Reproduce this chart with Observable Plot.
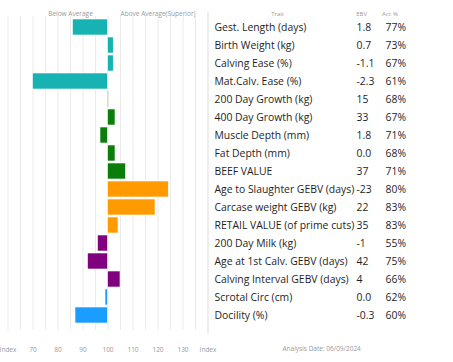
<!DOCTYPE html>
<html>
<head>
<meta charset="utf-8">
<script src="https://cdn.jsdelivr.net/npm/d3@7"></script>
<script src="https://cdn.jsdelivr.net/npm/@observablehq/plot@0.6"></script>
<style>
  html, body { margin: 0; padding: 0; background: #fff; }
  #chart svg { display: block; }
</style>
</head>
<body>
<div id="chart"></div>
<script>
const traits = [
  "Gest. Length (days)", "Birth Weight (kg)", "Calving Ease (%)", "Mat.Calv. Ease (%)",
  "200 Day Growth (kg)", "400 Day Growth (kg)", "Muscle Depth (mm)", "Fat Depth (mm)",
  "BEEF VALUE", "Age to Slaughter GEBV (days)", "Carcase weight GEBV (kg)",
  "RETAIL VALUE (of prime cuts)", "200 Day Milk (kg)", "Age at 1st Calv. GEBV (days)",
  "Calving Interval GEBV (days)", "Scrotal Circ (cm)", "Docility (%)"
];
const ebv = ["1.8", "0.7", "-1.1", "-2.3", "15", "33", "1.8", "0.0", "37", "-23", "22", "35", "-1", "42", "4", "0.0", "-0.3"];
const acc = ["77%", "73%", "67%", "61%", "68%", "67%", "71%", "68%", "71%", "80%", "83%", "83%", "55%", "75%", "66%", "62%", "60%"];
const indexValues = [86, 102.3, 102.3, 70, 100.3, 103, 97, 103, 107.2, 124.3, 119, 104.2, 96, 92, 105, 99, 87];
const groups = ["calving", "calving", "calving", "calving", "growth", "growth", "growth", "growth", "growth",
  "carcase", "carcase", "carcase", "maternal", "maternal", "maternal", "other", "other"];
const groupNames = ["calving", "growth", "carcase", "maternal", "other"];
const groupColors = ["#17b3b3", "#0b7d0b", "#ff9a00", "#800080", "#1a9dff"];
const tickValues = [60, 70, 80, 90, 100, 110, 120, 130, 140];
const tickLabels = ["Index", "70", "80", "90", "100", "110", "120", "130", "Index"];
const gridValues = [60, 65, 70, 75, 80, 85, 90, 95, 100, 105, 110, 115, 120, 125, 130, 135];
const headerLeft = ["Below Average", "Above Average(Superior)"];
const headerLeftAt = [85, 120];
const columnHeaders = ["Trait", "EBV", "Acc %"];
const analysisDate = "Analysis Date: 06/09/2024";

const rows = traits.map((t, i) => ({trait: t, ebv: ebv[i], acc: acc[i], value: indexValues[i], group: groups[i]}));
const font = "'Open Sans', sans-serif";
const small = {fontSize: 6.5, fill: "#9a9a9a"};
const body = {fontSize: 10.4, fill: "#1e1e1e", textAnchor: "start", frameAnchor: "right"};

const chart = Plot.plot({
  width: 453,
  height: 362,
  marginLeft: 7.5,
  marginRight: 245.5,
  marginTop: 17,
  marginBottom: 37,
  style: {fontFamily: font, background: "#fff"},
  x: {domain: [60, 140], axis: null},
  y: {domain: traits, paddingInner: 0.12, paddingOuter: 0.06, axis: null},
  color: {domain: groupNames, range: groupColors},
  marks: [
    Plot.ruleX(gridValues, {x: d => d, insetTop: -1, insetBottom: -5, stroke: "#ebebeb", strokeWidth: 1}),
    Plot.ruleX([140], {x: d => d, insetTop: -5, insetBottom: -8, stroke: "#dddddd", strokeWidth: 1}),
    Plot.barX(rows, {x1: 100, x2: "value", y: "trait", fill: "group", stroke: "white", strokeWidth: 0.6}),
    Plot.axisX({ticks: tickValues, tickFormat: (d, i) => tickLabels[i], tickSize: 0, tickPadding: 22,
      label: null, anchor: "bottom", ...small}),
    Plot.text(headerLeft, {x: (d, i) => headerLeftAt[i], frameAnchor: "top", dy: -6, text: d => d, ...small}),
    Plot.text(rows, {y: "trait", text: "trait", dx: 6.5, ...body}),
    Plot.text(rows, {y: "trait", text: "ebv", dx: 148.5, ...body}),
    Plot.text(rows, {y: "trait", text: "acc", dx: 177.5, ...body}),
    Plot.text([columnHeaders[0]], {frameAnchor: "top-right", dx: 76, dy: -6, text: d => d, fontSize: 6, fill: "#9a9a9a"}),
    Plot.text([columnHeaders[1]], {frameAnchor: "top-right", dx: 159, dy: -6, text: d => d, fontSize: 6, fill: "#9a9a9a"}),
    Plot.text([columnHeaders[2]], {frameAnchor: "top-right", dx: 190, dy: -6, text: d => d, fontSize: 6, fill: "#9a9a9a"}),
    Plot.text([analysisDate], {frameAnchor: "bottom-right", dx: 74.5, dy: 25, textAnchor: "start", text: d => d, ...small})
  ]
});
document.getElementById("chart").appendChild(chart);
</script>
</body>
</html>
